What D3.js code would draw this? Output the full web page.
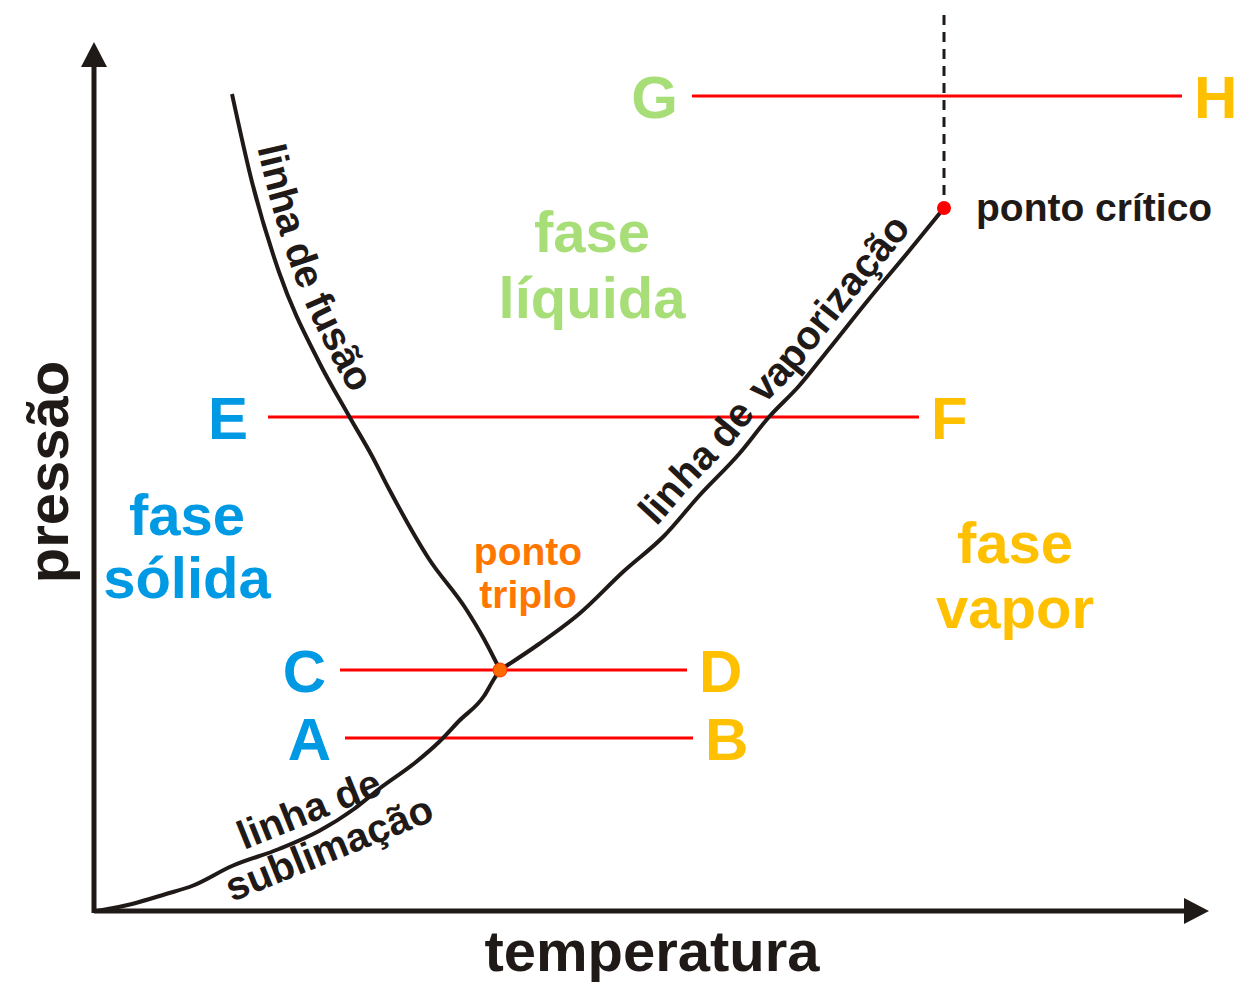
<!DOCTYPE html>
<html>
<head>
<meta charset="utf-8">
<script src="https://cdn.jsdelivr.net/npm/d3@7"></script>
<style>
  body { margin: 0; background: #fff; }
  svg text { font-family: "Liberation Sans", Arial, sans-serif; font-weight: bold; }
</style>
</head>
<body>
<script>
// temperature / pressure in arbitrary units
var sublimation = [[0.3, 0], [3.8, 0.7], [7.2, 1.7], [9.8, 2.5], [13.8, 4.5], [18.5, 6.2], [22.5, 8.0],
                   [26, 10.2], [28.5, 12.2], [32.2, 14.9], [34.5, 16.9], [36.5, 19.0], [39, 21.5],
                   [40, 23.2], [40.6, 24.1]];
var fusion = [[13.8, 81.7], [15.8, 72.9], [18.5, 63.9], [22.5, 54.9], [25.5, 49.5], [27.8, 45.5],
              [29.5, 42.2], [33.5, 35.2], [37.2, 30.2], [39, 27.2], [40.6, 24.1]];
var vaporization = [[40.6, 24.1], [44.5, 26.7], [48.5, 29.7], [53, 34], [57, 37.5], [60.5, 41.5],
                    [64.5, 45.7], [67.5, 49.4], [70.5, 52.5], [73.5, 56.2], [77.5, 61.2], [81.5, 66],
                    [85, 70.3]];
var triplePoint = [40.6, 24.1];
var criticalPoint = [85, 70.3];
var supercriticalTop = 90;

// horizontal paths: start letter, end letter, pressure, temperature range
var isobarNames = [["A", "B"], ["C", "D"], ["E", "F"], ["G", "H"]];
var isobarPressure = [17.3, 24.1, 49.4, 81.5];
var isobarTemps = [[25.1, 59.9], [24.6, 59.3], [17.4, 82.5], [59.8, 108.8]];

var phaseNames = [["fase", "sólida"], ["fase", "líquida"], ["fase", "vapor"], ["ponto", "triplo"]];
var phaseAnchor = [[9.3, 37.6, 31.3], [49.8, 65.9, 59.3], [92.1, 34.8, 28.3], [43.4, 34.6, 30.3]];

// the sublimation label is written straight, two lines at the same slant
var sublimationWords = ["linha de", "sublimação"];
var sublimationAnchor = [[15.0, 6.1], [13.8, 0.9]];

var blue = "#0099e3", green = "#a8de77", yellow = "#ffc000", orange = "#ff7700",
    red = "#ff0000", ink = "#1f1a17";
var phaseColors = [blue, green, yellow, orange];
var startColors = {"A": blue, "C": blue, "E": blue, "G": green};
var endColors = {"B": yellow, "D": yellow, "F": yellow, "H": yellow};

var width = 1258, height = 982;

var svg = d3.select("body")
            .append("svg")
            .attr("width", width)
            .attr("height", height);

svg.append("rect")
   .attr("width", width)
   .attr("height", height)
   .attr("fill", "#fff");

var xScale = d3.scaleLinear().domain([0, 110]).range([94, 1194]);
var yScale = d3.scaleLinear().domain([0, 85]).range([911, 61]);

var line = d3.line()
             .x(function(d) {return xScale(d[0]);})
             .y(function(d) {return yScale(d[1]);})
             .curve(d3.curveMonotoneX);

// axes with arrow heads
var x0 = xScale(0), y0 = yScale(0);
svg.append("line")
   .attr("x1", x0).attr("y1", y0)
   .attr("x2", 1190).attr("y2", y0)
   .attr("stroke", ink).attr("stroke-width", 5);
svg.append("line")
   .attr("x1", x0).attr("y1", y0 + 2)
   .attr("x2", x0).attr("y2", 62)
   .attr("stroke", ink).attr("stroke-width", 5);
svg.append("path")
   .attr("d", "M1184," + (y0 - 13) + "L1209," + y0 + "L1184," + (y0 + 13) + "Z")
   .attr("fill", ink);
svg.append("path")
   .attr("d", "M" + (x0 - 13) + ",67L" + x0 + ",42L" + (x0 + 13) + ",67Z")
   .attr("fill", ink);

// dashed line above the critical point
svg.append("line")
   .attr("x1", xScale(criticalPoint[0])).attr("y1", yScale(criticalPoint[1]))
   .attr("x2", xScale(criticalPoint[0])).attr("y2", yScale(supercriticalTop))
   .attr("stroke", ink).attr("stroke-width", 3)
   .attr("stroke-dasharray", "10,7")
   .attr("stroke-dashoffset", 4);

// red isobars
isobarNames.forEach(function(n, i) {
  var y = yScale(isobarPressure[i]),
      xa = xScale(isobarTemps[i][0]),
      xb = xScale(isobarTemps[i][1]);
  svg.append("line")
     .attr("x1", xa).attr("y1", y)
     .attr("x2", xb).attr("y2", y)
     .attr("stroke", red).attr("stroke-width", 3);
  svg.append("text")
     .attr("x", xa - (n[0] == "E" ? 20 : 14)).attr("y", y)
     .attr("dy", "0.36em")
     .style("font-size", "60px")
     .style("text-anchor", "end")
     .attr("fill", startColors[n[0]])
     .text(n[0]);
  svg.append("text")
     .attr("x", xb + 12).attr("y", y)
     .attr("dy", "0.36em")
     .style("font-size", "60px")
     .style("text-anchor", "start")
     .attr("fill", endColors[n[1]])
     .text(n[1]);
});

// the three phase boundaries
var curves = [["sublimation", sublimation], ["fusion", fusion], ["vaporization", vaporization]];
curves.forEach(function(c) {
  svg.append("path")
     .attr("id", c[0])
     .attr("d", line(c[1]))
     .attr("fill", "none")
     .attr("stroke", ink)
     .attr("stroke-width", 4)
     .attr("stroke-linejoin", "round");
});

// labels that follow the curves
var curveLabels = [["fusion", "linha de fusão", 58, -13],
                   ["vaporization", "linha de vaporização", 214, -12]];
curveLabels.forEach(function(l) {
  svg.append("text")
     .attr("dy", l[3])
     .style("font-size", "40px")
     .attr("fill", ink)
     .append("textPath")
     .attr("href", "#" + l[0])
     .attr("startOffset", l[2])
     .text(l[1]);
});

sublimationWords.forEach(function(w, i) {
  svg.append("text")
     .attr("transform", "translate(" + xScale(sublimationAnchor[i][0]) + "," +
                        yScale(sublimationAnchor[i][1]) + ") rotate(-22)")
     .style("font-size", "40px")
     .attr("fill", ink)
     .text(w);
});

// phase names
phaseNames.forEach(function(n, i) {
  var big = i < 3;
  n.forEach(function(word, j) {
    svg.append("text")
       .attr("x", xScale(phaseAnchor[i][0]))
       .attr("y", yScale(phaseAnchor[i][j + 1]))
       .style("font-size", big ? "58px" : "39px")
       .style("text-anchor", "middle")
       .attr("fill", phaseColors[i])
       .text(word);
  });
});

// special points
svg.append("circle")
   .attr("cx", xScale(criticalPoint[0])).attr("cy", yScale(criticalPoint[1]))
   .attr("r", 7).attr("fill", red);
svg.append("circle")
   .attr("cx", xScale(triplePoint[0])).attr("cy", yScale(triplePoint[1]))
   .attr("r", 7).attr("fill", "#ff6a00")
   .attr("stroke", "#ff3300").attr("stroke-width", 1);

svg.append("text")
   .attr("x", xScale(criticalPoint[0]) + 32)
   .attr("y", yScale(criticalPoint[1]) + 13)
   .style("font-size", "39px")
   .attr("fill", ink)
   .text("ponto crítico");

// axis titles
svg.append("text")
   .attr("x", 652)
   .attr("y", 971)
   .style("font-size", "58px")
   .style("text-anchor", "middle")
   .attr("fill", ink)
   .text("temperatura");

svg.append("text")
   .attr("transform", "translate(68,472) rotate(-90)")
   .style("font-size", "58px")
   .style("text-anchor", "middle")
   .attr("fill", ink)
   .text("pressão");
</script>
</body>
</html>
